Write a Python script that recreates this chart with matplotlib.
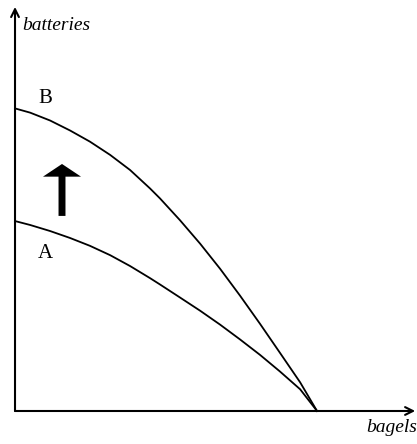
import matplotlib
matplotlib.use("Agg")
import matplotlib.pyplot as plt

# Production possibilities frontiers (arbitrary units)
bagels_B = [0, 0.50, 1.16, 1.82, 2.48, 3.15, 3.81, 4.47, 4.80, 5.46, 6.13,
            6.79, 7.45, 8.11, 8.77, 9.44, 10.0]
batteries_B = [10.02, 9.88, 9.62, 9.29, 8.92, 8.48, 7.98, 7.37, 7.04, 6.32, 5.54,
               4.71, 3.82, 2.89, 1.93, 0.95, 0]
bagels_A = [0, 0.50, 1.16, 1.82, 2.48, 3.15, 3.81, 4.47, 4.80, 5.46, 6.13,
            6.79, 7.45, 8.11, 8.77, 9.44, 10.0]
batteries_A = [6.29, 6.16, 5.96, 5.73, 5.47, 5.16, 4.80, 4.40, 4.19, 3.76, 3.32,
               2.86, 2.37, 1.86, 1.31, 0.72, 0]
curve_labels = ["A", "B"]
x_label = "bagels"
y_label = "batteries"

fig = plt.figure(figsize=(4.17, 4.44), dpi=100)
ax = fig.add_axes([0, 0, 1, 1])
ax.set_xlim(-0.497, 13.31)
ax.set_ylim(-1.093, 13.61)
ax.axis("off")

lw = 1.3
ax.plot(bagels_B, batteries_B, color="black", lw=lw, solid_joinstyle="round")
ax.plot(bagels_A, batteries_A, color="black", lw=lw, solid_joinstyle="round")

# axes with open arrowheads
ax.annotate("", xy=(13.25, 0), xytext=(0, 0),
            arrowprops=dict(arrowstyle="->", lw=1.5, color="black",
                            shrinkA=0, shrinkB=0, mutation_scale=14))
ax.annotate("", xy=(0, 13.38), xytext=(0, 0),
            arrowprops=dict(arrowstyle="->", lw=1.5, color="black",
                            shrinkA=0, shrinkB=0, mutation_scale=14))

serif = "Liberation Serif"
ax.text(0.25, 12.75, y_label, fontsize=14, style="italic", family=serif,
        ha="left", va="center")
ax.text(13.3, -0.55, x_label, fontsize=14, style="italic", family=serif,
        ha="right", va="center")
ax.text(1.0, 10.35, curve_labels[1], fontsize=15, family=serif,
        ha="center", va="center")
ax.text(1.0, 5.2, curve_labels[0], fontsize=15, family=serif,
        ha="center", va="center")

# shift arrow
ax.arrow(1.556, 6.46, 0, 1.72, width=0.23, head_width=1.26,
         head_length=0.42, length_includes_head=True,
         color="black", lw=0)

fig.savefig("out.png", dpi=100)
